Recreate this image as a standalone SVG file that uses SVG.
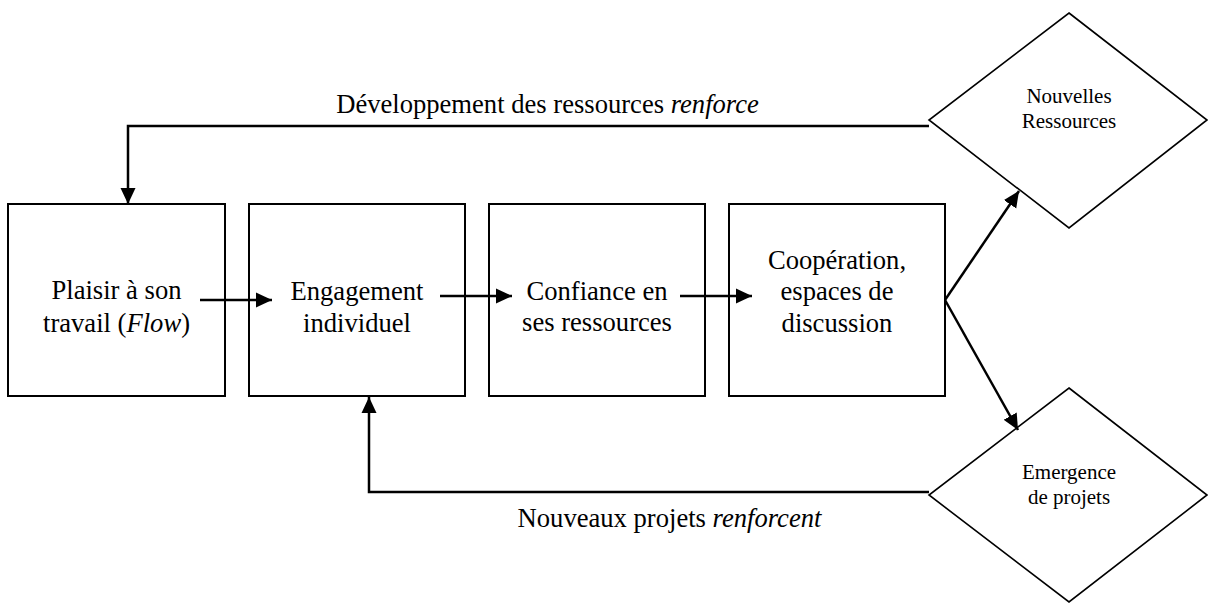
<svg xmlns="http://www.w3.org/2000/svg" width="1208" height="603" viewBox="0 0 1208 603">
<style>
.box{fill:#fff;stroke:#000;stroke-width:2}
.dia{fill:#fff;stroke:#000;stroke-width:1.6}
.con{fill:none;stroke:#000;stroke-width:2.5}
.t{font-size:26.6px;fill:#000;text-anchor:middle}
.s{font-size:21px;fill:#000;text-anchor:middle}
</style>
<defs>
<marker id="ah" markerUnits="userSpaceOnUse" markerWidth="16" markerHeight="16" viewBox="0 0 16 16" refX="16" refY="8" orient="auto">
<path d="M0,0.5 L16,8 L0,15.5 Z" fill="#000"/>
</marker>
</defs>
<rect width="1208" height="603" fill="#fff"/>
<g font-family="'Liberation Serif', 'DejaVu Serif', serif">
<g id="plaisir">
<rect class="box" x="8" y="204" width="217" height="192"/>
<text class="t" x="116.5" y="299">Plaisir à son</text>
<text class="t" x="116.5" y="332">travail (<tspan font-style="italic">Flow</tspan>)</text>
</g>
<g id="engagement">
<rect class="box" x="249" y="204" width="216" height="192"/>
<text class="t" x="357" y="300">Engagement</text>
<text class="t" x="357" y="332">individuel</text>
</g>
<g id="confiance">
<rect class="box" x="489" y="204" width="216" height="192"/>
<text class="t" x="597" y="300">Confiance en</text>
<text class="t" x="597" y="331">ses ressources</text>
</g>
<g id="cooperation">
<rect class="box" x="729" y="204" width="216" height="192"/>
<text class="t" x="837" y="269">Coopération,</text>
<text class="t" x="837" y="300">espaces de</text>
<text class="t" x="837" y="332">discussion</text>
</g>
<g id="nouvelles">
<polygon class="dia" points="1069,13 1207,120 1069,228 929,120"/>
<text class="s" x="1069" y="103">Nouvelles</text>
<text class="s" x="1069" y="128">Ressources</text>
</g>
<g id="emergence">
<polygon class="dia" points="1069,388 1207,495 1069,602 929,495"/>
<text class="s" x="1069" y="479">Emergence</text>
<text class="s" x="1069" y="504">de projets</text>
</g>
<g id="connectors">
<polyline class="con" points="929,126 128,126 128,204" marker-end="url(#ah)"/>
<polyline class="con" points="929,492 369,492 369,397" marker-end="url(#ah)"/>
<line class="con" x1="200" y1="300" x2="272" y2="300" marker-end="url(#ah)"/>
<line class="con" x1="440" y1="296" x2="512" y2="296" marker-end="url(#ah)"/>
<line class="con" x1="680" y1="296" x2="752" y2="296" marker-end="url(#ah)"/>
<line class="con" x1="945" y1="300" x2="1019" y2="191" marker-end="url(#ah)"/>
<line class="con" x1="945" y1="300" x2="1018" y2="430" marker-end="url(#ah)"/>
<text class="t" x="547.5" y="113">Développement des ressources <tspan font-style="italic">renforce</tspan></text>
<text class="t" x="669.5" y="527">Nouveaux projets <tspan font-style="italic">renforcent</tspan></text>
</g>
</g>
</svg>
